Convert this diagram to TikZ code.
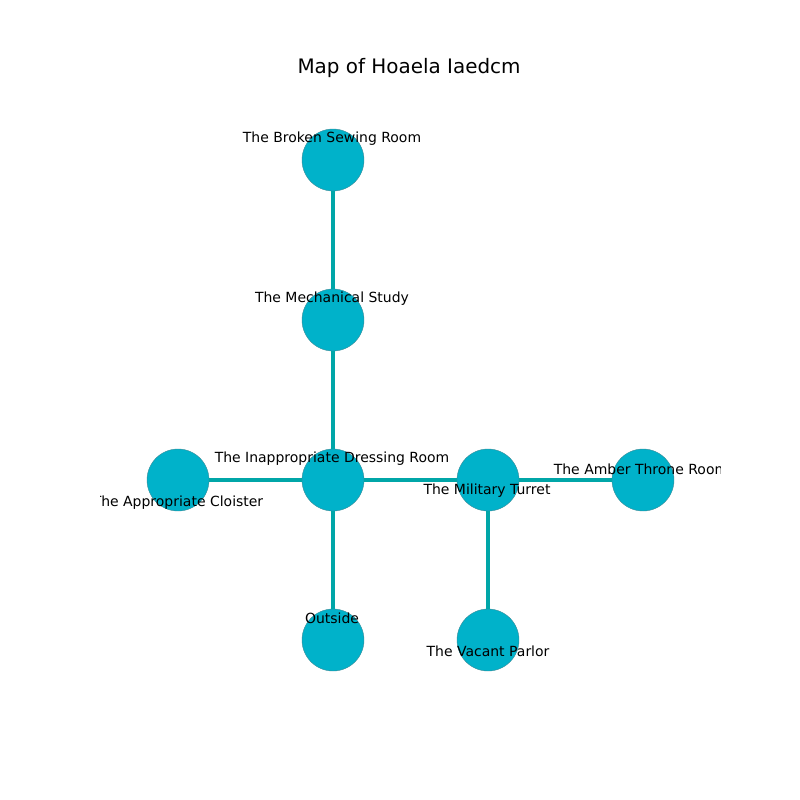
\documentclass[tikz,border=0pt]{standalone}
\usepackage{fontspec}
\setmainfont{DejaVu Sans}
\usepackage{tikz}
\usetikzlibrary{positioning}
\definecolor{roomfill}{HTML}{00B2CA}
\definecolor{roomedge}{HTML}{00A6A8}
\definecolor{roomline}{HTML}{3A8A96}

\begin{document}
\begin{tikzpicture}[x=0.7227pt, y=-0.7227pt,
    room/.style={circle, fill=roomfill, draw=roomline, line width=0.3pt, minimum size=44.8pt, inner sep=0pt},
    passage/.style={draw=roomedge, line width=3.6pt},
    roomlabel/.style={font=\fontsize{10.1}{12}\selectfont, inner sep=0pt}]
  \useasboundingbox (0,0) rectangle (800,800);
  \node[font=\fontsize{14.4}{17}\selectfont] (title) at (409,68) {Map of Hoaela Iaedcm};
  % rooms
  \node[room] (broken) at (333,160) {};
  \node[room] (mechanical) at (333,320) {};
  \node[room] (dressing) at (333,480) {};
  \node[room] (cloister) at (178,480) {};
  \node[room] (turret) at (488,480) {};
  \node[room] (amber) at (643,480) {};
  \node[room] (outside) at (333,640) {};
  \node[room] (parlor) at (488,640) {};
  % passages
  \draw[passage] (broken) -- (mechanical);
  \draw[passage] (mechanical) -- (dressing);
  \draw[passage] (dressing) -- (cloister);
  \draw[passage] (dressing) -- (turret);
  \draw[passage] (turret) -- (amber);
  \draw[passage] (dressing) -- (outside);
  \draw[passage] (turret) -- (parlor);
  % labels, clipped to the axes
  \begin{scope}
    \clip (100,96) rectangle (720,704);
    \node[roomlabel] (broken-l) at (332,139) {The Broken Sewing Room};
    \node[roomlabel] (mechanical-l) at (332,299) {The Mechanical Study};
    \node[roomlabel] (dressing-l) at (332,459) {The Inappropriate Dressing Room};
    \node[roomlabel] (cloister-l) at (178,503) {The Appropriate Cloister};
    \node[roomlabel] (turret-l) at (487,491) {The Military Turret};
    \node[roomlabel] (amber-l) at (641,469) {The Amber Throne Room};
    \node[roomlabel] (outside-l) at (332,618) {Outside};
    \node[roomlabel] (parlor-l) at (488,651) {The Vacant Parlor};
  \end{scope}
\end{tikzpicture}
\end{document}
